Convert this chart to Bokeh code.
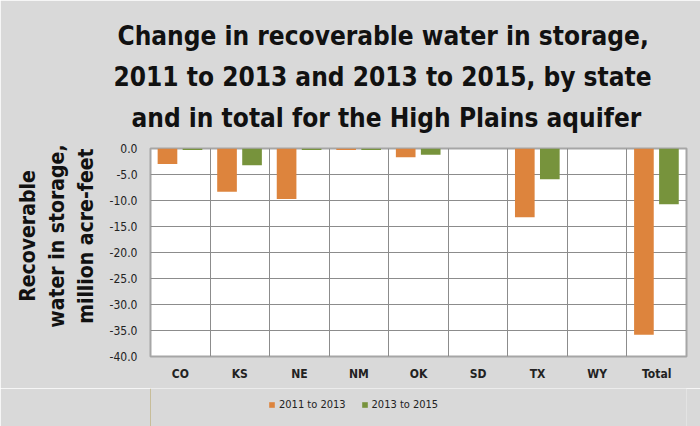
import numpy as np
from bokeh.plotting import figure
from bokeh.layouts import column
from bokeh.models import (FixedTicker, NumeralTickFormatter, Legend, LegendItem,
                          Title, ColumnDataSource, Range1d)
from bokeh.transform import dodge
from bokeh.embed import file_html
from bokeh.resources import INLINE

states = ["CO", "KS", "NE", "NM", "OK", "SD", "TX", "WY", "Total"]
change_2011_2013 = [-3.0, -8.3, -9.7, -0.3, -1.7, 0.0, -13.2, 0.0, -35.8]
change_2013_2015 = [-0.3, -3.2, -0.3, -0.3, -1.2, 0.0, -5.9, 0.0, -10.7]
y_ticks = [-40, -35, -30, -25, -20, -15, -10, -5, 0]
series_labels = ["2011 to 2013", "2013 to 2015"]
title_lines = ["Change in recoverable water in storage,",
               "2011 to 2013 and 2013 to 2015, by state",
               "and in total for the High Plains aquifer"]

ORANGE = "#dd843d"
GREEN = "#77933c"
BG = "#d9d9d9"
FONT = "DejaVu Sans Condensed"
NB = "\u00a0"

pos = [i + 0.5 for i in range(len(states))]
src = ColumnDataSource(dict(x=pos, a=change_2011_2013, b=change_2013_2015))

p = figure(frame_width=536, frame_height=208, x_range=Range1d(0, len(states)),
           y_range=Range1d(-40, 0), output_backend="svg", toolbar_location=None,
           background_fill_color="white", border_fill_color=BG,
           min_border_left=150, min_border_right=14, min_border_top=148,
           min_border_bottom=32)

r1 = p.vbar(x=dodge("x", -0.215), top="a", bottom=0, width=0.33, source=src,
            fill_color=ORANGE, line_color=None)
r2 = p.vbar(x=dodge("x", 0.205), top="b", bottom=0, width=0.33, source=src,
            fill_color=GREEN, line_color=None)

# spacer between frame and title block
p.add_layout(Title(text=NB, text_font_size="8px", standoff=0,
                   text_color=BG), "above")
# titles (closest line first), left aligned with offsets from the frame edge
offsets = [-33, -37, -19]
for line, off in reversed(list(zip(title_lines, offsets))):
    t = Title(text=line, align="left", offset=off, text_font=FONT,
              text_font_style="bold", text_font_size="26px",
              text_color="#111111", standoff=9)
    p.add_layout(t, "above")
p.title.visible = False

# y axis
p.yaxis.ticker = FixedTicker(ticks=y_ticks)
p.yaxis.formatter = NumeralTickFormatter(format="0.0")
p.yaxis.major_tick_line_color = None
p.yaxis.major_tick_out = 0
p.yaxis.minor_tick_line_color = None
p.yaxis.axis_line_color = None
p.yaxis.major_label_standoff = 13
p.yaxis.major_label_text_font = FONT
p.yaxis.major_label_text_font_size = "12px"
p.yaxis.major_label_text_color = "#222222"
p.yaxis.axis_label = "\n".join(NB * 5 + s for s in
                               ["Recoverable", "water in storage,", "million acre-feet"])
p.yaxis.axis_label_text_font = FONT
p.yaxis.axis_label_text_font_style = "bold"
p.yaxis.axis_label_text_font_size = "21px"
p.yaxis.axis_label_text_line_height = 1.2
p.yaxis.axis_label_text_color = "#111111"
p.yaxis.axis_label_standoff = 9

# x axis
p.xaxis.ticker = FixedTicker(ticks=pos)
p.xaxis.major_label_overrides = {x: s for x, s in zip(pos, states)}
p.xaxis.major_tick_line_color = None
p.xaxis.major_tick_out = 0
p.xaxis.minor_tick_line_color = None
p.xaxis.axis_line_color = None
p.xaxis.major_label_standoff = 10
p.xaxis.major_label_text_font = FONT
p.xaxis.major_label_text_font_style = "bold"
p.xaxis.major_label_text_font_size = "12px"
p.xaxis.major_label_text_color = "#222222"

# grids
p.xgrid.ticker = FixedTicker(ticks=list(range(len(states) + 1)))
p.xgrid.grid_line_color = "#8c8c8c"
p.ygrid.grid_line_color = "#8c8c8c"
p.outline_line_color = "#a6a6a6"
p.outline_line_width = 2

# legend strip below the chart (frame aligned with the chart frame)
pl = figure(frame_width=536, frame_height=38, x_range=Range1d(0, 1),
            y_range=Range1d(0, 1), output_backend="svg", toolbar_location=None,
            x_axis_type=None, y_axis_type=None, background_fill_color=BG,
            border_fill_color=BG, min_border_left=150, min_border_right=14,
            min_border_top=0, min_border_bottom=0, outline_line_color=None)
pl.grid.visible = False
l1 = pl.vbar(x=[-10], top=[1], width=0.1, fill_color=ORANGE, line_color=None)
l2 = pl.vbar(x=[-10], top=[1], width=0.1, fill_color=GREEN, line_color=None)
legend = Legend(items=[LegendItem(label=series_labels[0], renderers=[l1]),
                       LegendItem(label=series_labels[1], renderers=[l2])],
                orientation="horizontal", location=(118, 15),
                glyph_width=7, glyph_height=7, label_standoff=4, spacing=15,
                label_text_font=FONT, label_text_font_size="11px",
                label_text_color="#222222", border_line_color=None,
                background_fill_alpha=0, padding=0, margin=0)
pl.add_layout(legend, "center")

layout = column(p, pl, spacing=0)
open("out.html", "w").write(file_html(layout, INLINE))
